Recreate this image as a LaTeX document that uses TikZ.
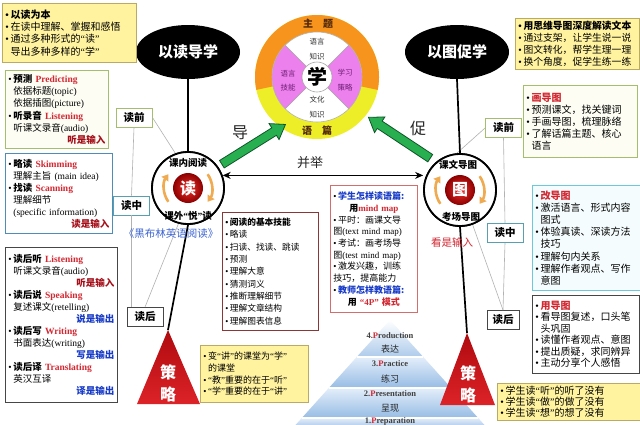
\documentclass[tikz,border=0pt]{standalone}
\usepackage{fontspec}
\setmainfont{Noto Sans CJK SC}
\newfontfamily\en{Liberation Serif}
\usetikzlibrary{shapes.geometric,shapes.arrows,arrows.meta,calc}
\setlength\parindent{0pt}
\definecolor{yel}{RGB}{255,243,160}
\definecolor{yelb}{RGB}{185,170,100}
\definecolor{olv}{RGB}{165,190,110}
\definecolor{cream}{RGB}{253,253,244}
\definecolor{stb}{RGB}{80,140,185}
\definecolor{dkg}{RGB}{70,70,70}
\definecolor{ered}{RGB}{210,40,50}
\definecolor{dred}{RGB}{165,15,25}
\definecolor{dblue}{RGB}{25,60,200}
\definecolor{brd}{RGB}{140,55,55}
\definecolor{pnk}{RGB}{210,110,110}
\definecolor{cyb}{RGB}{110,200,220}
\definecolor{cyf}{RGB}{245,252,253}
\definecolor{orng}{RGB}{247,148,30}
\definecolor{ylw}{RGB}{238,238,40}
\definecolor{vio}{RGB}{236,128,236}
\definecolor{garr}{RGB}{40,175,80}
\definecolor{garrb}{RGB}{15,85,40}
\definecolor{pyrt}{RGB}{228,238,250}
\definecolor{pyrb}{RGB}{150,188,228}
\definecolor{oarc}{RGB}{240,170,80}
\definecolor{lblue}{RGB}{60,100,210}
\definecolor{ballin}{RGB}{240,50,45}
\definecolor{ballout}{RGB}{140,0,0}
\definecolor{trit}{RGB}{175,10,15}
\definecolor{trib}{RGB}{220,35,40}
\definecolor{ringtx}{RGB}{80,40,10}
\definecolor{sectx}{RGB}{110,30,120}

\newcommand\bu{{\en\textbullet}\,}
\newcommand\nb{\phantom{{\en\textbullet}\,}}
\newcommand\qo{{\en\char"201C}}
\newcommand\qc{{\en\char"201D}}
\newcommand\EN[1]{{\en #1}}
\newcommand\ENR[1]{{\en\bfseries\color{ered}#1}}
\newcommand\RT[2]{\hfill\textbf{\color{#1}#2}\hspace*{6pt}}

\tikzset{
 box/.style={draw, line width=0.9pt, anchor=north west, align=left, inner sep=3pt, fill=white},
 ybox/.style={box, fill=yel, draw=yelb},
 tagbox/.style={draw, line width=0.9pt, fill=white, font=\bfseries\fontsize{10.5}{12}\selectfont, inner sep=1pt, minimum width=36pt, minimum height=19pt},
 bigell/.style={ellipse, fill=black, text=white, font=\bfseries\fontsize{15}{18}\selectfont, minimum width=104pt, minimum height=54pt, inner sep=0pt},
 mainline/.style={line width=1.7pt, black},
 thinl/.style={draw=gray!60, line width=0.6pt},
 hub/.style={circle, draw=black, line width=1.8pt, fill=white, minimum size=72pt, inner sep=0pt},
 redball/.style={circle, shading=radial, inner color=ballin, outer color=ballout, minimum size=30pt, inner sep=0pt, text=white, font=\bfseries\fontsize{16}{18}\selectfont},
 hublbl/.style={font=\bfseries\fontsize{9.5}{11}\selectfont, inner sep=0pt},
 cyc/.style={draw=oarc, line width=2.6pt, -{Triangle[width=8pt,length=6pt]}},
 garrow/.style={single arrow, draw=garrb, fill=garr, line width=0.8pt, inner xsep=0pt, inner ysep=4pt, single arrow head extend=5pt, single arrow tip angle=70, single arrow head indent=0pt},
 bigchar/.style={font=\fontsize{16}{18}\selectfont, text=black!85},
 trichar/.style={font=\bfseries\fontsize{16}{18}\selectfont, text=white},
 pyen/.style={font=\en\bfseries\fontsize{8.5}{10}\selectfont, text=black!75, inner sep=0pt},
 pycn/.style={font=\fontsize{9}{10}\selectfont, text=black!85, inner sep=0pt},
 secl/.style={font=\fontsize{7.5}{8}\selectfont, inner sep=0pt},
 ringl/.style={font=\bfseries\fontsize{10}{12}\selectfont, text=ringtx, inner sep=0pt},
}

\begin{document}
\begin{tikzpicture}[x=1pt,y=-1pt]
\useasboundingbox (0,0) rectangle (640,424);
\fill[white] (0,0) rectangle (640,424);
\clip (0,0) rectangle (640,424);

% ---------- pyramid (4P) ----------
\shade[top color=white, bottom color=pyrb!70!pyrt] (390,320) -- (423.3,357) -- (356.7,357) -- cycle;
\shade[top color=pyrt, bottom color=pyrb] (356.7,357) -- (423.3,357) -- (451.2,388) -- (328.8,388) -- cycle;
\shade[top color=pyrt, bottom color=pyrb] (328.8,388) -- (451.2,388) -- (478.2,418) -- (301.8,418) -- cycle;
\shade[top color=pyrt, bottom color=pyrb] (301.8,418) -- (478.2,418) -- (489,430) -- (291,430) -- cycle;
\draw[white, line width=1.5pt] (356.7,357) -- (423.3,357) (328.8,388) -- (451.2,388) (301.8,418) -- (478.2,418);
\node[pyen] (p4) at (390,336) {4.{\color{ered}P}roduction};
\node[pycn] (p4c) at (390,349) {表达};
\node[pyen] (p3) at (390,364) {3.{\color{ered}P}ractice};
\node[pycn] (p3c) at (390,379) {练习};
\node[pyen] (p2) at (390,394) {2.{\color{ered}P}resentation};
\node[pycn] (p2c) at (390,408) {呈现};
\node[pyen] (p1) at (390,421) {1.{\color{ered}P}reparation};

% ---------- key nodes ----------
\node[bigell] (el) at (188,52) {以读导学};
\node[bigell] (er) at (457,52) {以图促学};
\coordinate (sl) at (168,330);
\coordinate (sr) at (467,333);

\node[tagbox, draw=olv] (L1) at (134,117.5) {读前};
\node[tagbox, draw=cyb!80!black] (L2) at (131.5,205.5) {读中};
\node[tagbox, draw=dkg] (L3) at (145,317) {读后};
\node[tagbox, draw=olv] (R1) at (503.5,128) {读前};
\node[tagbox, draw=cyb!80!black] (R2) at (505,233) {读中};
\node[tagbox, draw=dkg, minimum width=32pt] (R3) at (503,320) {读后};

% hubs (placed first so that lines can refer to them)
\node[hub] (du) at (188,188) {};
\node[hub] (tu) at (460,190) {};

% ---------- thin gray lines ----------
\draw[thinl] (L1.east) -- (du.110);
\draw[thinl] (L1.south) -- (L2.north);
\draw[thinl] (L2.south) -- (L2.south |- L3.north);
\draw[thinl] (L3.north) -- (du.255);
\draw[thinl] (R1.west) -- (tu.95);
\draw[thinl] (R1.south) -- (R2.north);
\draw[thinl] (R2.south) -- (R3.north);
\draw[thinl] (tu.290) -- (R3.north);

% ---------- main lines ----------
\draw[mainline] (el.south) -- (du.north);
\draw[mainline] (du.south) -- (sl);
\draw[mainline] (er.south) -- (tu.north);
\draw[mainline] (tu.south) -- (sr);
\draw[line width=1.2pt, {Stealth[length=8pt,width=7pt]}-{Stealth[length=8pt,width=7pt]}] (du.20) -- (du.20 -| tu.west);

% redraw hubs on top of lines
\node[hub] at (du) {};
\node[hub] at (tu) {};
\node[redball] (dub) at (du) {读};
\node[redball] (tub) at (tu) {图};
\node[hublbl] (du1) at (188,163) {课内阅读};
\node[hublbl] (du2) at (188,216) {课外\qo 悦\qc 读};
\node[hublbl] (tu1) at (458,165) {课文导图};
\node[hublbl] (tu2) at (461,217) {考场导图};
\draw[cyc] ($(du)+(145:24)$) arc[start angle=145, end angle=215, radius=24];
\draw[cyc] ($(du)+(-35:24)$) arc[start angle=-35, end angle=35, radius=24];
\draw[cyc] ($(tu)+(145:24)$) arc[start angle=145, end angle=215, radius=24];
\draw[cyc] ($(tu)+(-35:24)$) arc[start angle=-35, end angle=35, radius=24];

% ---------- central ring ----------
\coordinate (C) at (317,77);
\fill[ylw] (C) circle[radius=62];
\fill[orng] (C) -- ($(C)+(12:62)$) arc[start angle=12, end angle=-192, radius=62] -- cycle;
\fill[white] (C) circle[radius=45];
\fill[vio] (C) -- ($(C)+(135:45)$) arc[start angle=135, end angle=225, radius=45] -- cycle;
\fill[vio] (C) -- ($(C)+(-45:45)$) arc[start angle=-45, end angle=45, radius=45] -- cycle;
\draw[gray!70, line width=0.5pt] ($(C)+(45:45)$) -- ($(C)+(225:45)$) ($(C)+(135:45)$) -- ($(C)+(-45:45)$);
\draw[gray!60, line width=0.6pt] (C) circle[radius=45];
\node[circle, fill=white, draw=gray!70, line width=0.6pt, minimum size=30pt, inner sep=0pt, font=\bfseries\fontsize{20}{22}\selectfont] (xue) at (C) {学};
\node[ringl] (r1) at (318,24) {主\quad 题};
\node[ringl] (r2) at (317,131) {语\quad 篇};
\node[secl, text=black!80] at (317,42) {语言};
\node[secl, text=black!80] at (317,57) {知识};
\node[secl, text=black!80] at (317,100) {文化};
\node[secl, text=black!80] at (317,115) {知识};
\node[secl, text=sectx] at (288,74) {语言};
\node[secl, text=sectx] at (288,88) {技能};
\node[secl, text=sectx] at (345,73) {学习};
\node[secl, text=sectx] at (345,88) {策略};

% ---------- green arrows ----------
\coordinate (g1a) at (219,166); \coordinate (g1b) at (283,126);
\path (g1a) -- (g1b) node[midway, sloped, allow upside down, garrow, minimum height=75pt] {};
\coordinate (g2a) at (433,160); \coordinate (g2b) at (371,119);
\path (g2a) -- (g2b) node[midway, sloped, allow upside down, garrow, minimum height=74pt] {};
\node[bigchar] (dao) at (240,133) {导};
\node[bigchar] (cu) at (418,128) {促};
\node[font=\fontsize{13}{15}\selectfont, text=black!85] (bj) at (310,163) {并举};

% ---------- strategy triangles ----------
\shade[top color=trit, bottom color=trib] (sl) -- (137,404) -- (200,404) -- cycle;
\shade[top color=trit, bottom color=trib] (sr) -- (440,405) -- (495,405) -- cycle;
\node[trichar] at (168,372) {策};
\node[trichar] at (168,394) {略};
\node[trichar] at (468,373) {策};
\node[trichar] at (468,395) {略};

% ---------- boxes left ----------
\node[ybox, text width=128pt, minimum height=59pt, font=\fontsize{10}{12.3}\selectfont] (tl) at (2,3) {%
\textbf{\bu 以读为本}\\
\bu 在读中理解、掌握和感悟\\
\bu 通过多种形式的\qo 读\qc\\
\nb 导出多种多样的\qo 学\qc};

\node[box, draw=olv, fill=cream, text width=97pt, minimum height=78pt, font=\fontsize{9.5}{12.2}\selectfont] (ba) at (5,70) {%
\bu\textbf{预测}\ \ENR{Predicting}\\
\nb 依据标题\EN{(topic)}\\
\nb 依据插图\EN{(picture)}\\
\bu\textbf{听录音}\ \ENR{Listening}\\
\nb 听课文录音\EN{(audio)}\\
\RT{dred}{听是输入}};

\node[box, draw=stb, text width=101pt, minimum height=80pt, font=\fontsize{9.5}{12}\selectfont] (bb) at (5,153) {%
\bu\textbf{略读}\ \ENR{Skimming}\\
\nb 理解主旨 \EN{(main idea)}\\
\bu\textbf{找读}\ \ENR{Scanning}\\
\nb 理解细节\\
\nb\EN{(specific information)}\\
\RT{dred}{读是输入}};

\node[box, draw=dkg, text width=106pt, minimum height=155pt, font=\fontsize{9.5}{12}\selectfont] (bc) at (5,247) {%
\bu\textbf{读后听}\ \ENR{Listening}\\
\nb 听课文录音\EN{(audio)}\\
\RT{dred}{听是输入}\\
\bu\textbf{读后说}\ \ENR{Speaking}\\
\nb 复述课文\EN{(retelling)}\\
\RT{dblue}{说是输出}\\
\bu\textbf{读后写}\ \ENR{Writing}\\
\nb 书面表达\EN{(writing)}\\
\RT{dblue}{写是输出}\\
\bu\textbf{读后译}\ \ENR{Translating}\\
\nb 英汉互译\\
\RT{dblue}{译是输出}};

% ---------- boxes middle ----------
\node[box, draw=brd, text width=90pt, minimum height=118pt, font=\fontsize{8.7}{12.3}\selectfont] (skill) at (222,212) {%
\textbf{\bu 阅读的基本技能}\\
\bu 略读\\
\bu 扫读、找读、跳读\\
\bu 预测\\
\bu 理解大意\\
\bu 猜测词义\\
\bu 推断理解细节\\
\bu 理解文章结构\\
\bu 理解图表信息};

\node[box, draw=pnk, text width=81pt, minimum height=127pt, font=\fontsize{9}{11.7}\selectfont] (mind) at (330,185) {%
\bu{\bfseries\color{dblue}学生怎样读语篇:}\\
\hfill\textbf{用}{\en\bfseries\color{ered}mind map}\hfill\mbox{}\\
\bu 平时：画课文导\\
图\EN{(text mind map)}\\
\bu 考试：画考场导\\
图\EN{(test mind map)}\\
\bu 激发兴趣，训练\\
技巧，提高能力\\
\bu{\bfseries\color{dblue}教师怎样教语篇:}\\
\hfill\textbf{用\ {\color{ered}\qo{\en 4P}\qc\ 模式}}\hfill\mbox{}};

\node[ybox, text width=102pt, minimum height=57pt, font=\fontsize{9}{11.7}\selectfont] (bm) at (200,345) {%
\bu 变\qo 讲\qc 的课堂为\qo 学\qc\\
\nb 的课堂\\
\bu\qo 教\qc 重要的在于\qo 听\qc\\
\bu\qo 学\qc 重要的在于\qo 讲\qc};

% ---------- boxes right ----------
\node[ybox, text width=118pt, minimum height=50pt, font=\fontsize{9.8}{11.8}\selectfont] (tr) at (515,18) {%
\textbf{\bu 用思维导图深度解读文本}\\
\bu 通过支架，让学生说一说\\
\bu 图文转化，帮学生理一理\\
\bu 换个角度，促学生练一练};

\node[box, draw=olv, fill=cream, text width=108pt, minimum height=72pt, font=\fontsize{10}{12}\selectfont] (hua) at (523,85) {%
\bu{\bfseries\color{ered}画导图}\\
\bu 预测课文，找关键词\\
\bu 手画导图，梳理脉络\\
\bu 了解话篇主题、核心\\
\nb 语言};

\node[box, draw=cyb, fill=cyf, text width=102pt, minimum height=105pt, font=\fontsize{10}{12.2}\selectfont] (gai) at (532,185) {%
\bu{\bfseries\color{ered}改导图}\\
\bu 激活语言、形式内容\\
\nb 图式\\
\bu 体验真读、深读方法\\
\nb 技巧\\
\bu 理解句内关系\\
\bu 理解作者观点、写作\\
\nb 意图};

\node[box, draw=dkg, text width=101pt, minimum height=78pt, font=\fontsize{10}{11.5}\selectfont] (yong) at (532,295) {%
\bu{\bfseries\color{ered}用导图}\\
\bu 看导图复述，口头笔\\
\nb 头巩固\\
\bu 读懂作者观点、意图\\
\bu 提出质疑，求同辨异\\
\bu 主动分享个人感悟};

\node[ybox, text width=137pt, font=\fontsize{10}{11}\selectfont] (br) at (497,383) {%
\bu 学生读\qo 听\qc 的听了没有\\
\bu 学生读\qo 做\qc 的做了没有\\
\bu 学生读\qo 想\qc 的想了没有};

% ---------- loose labels ----------
\node[font=\fontsize{10.5}{12}\selectfont, text=lblue, inner sep=0pt] (hbl) at (171,234) {《黑布林英语阅读》};
\node[font=\fontsize{10.5}{12}\selectfont, text=ered, inner sep=0pt] (kan) at (452,242) {看是输入};
\end{tikzpicture}
\end{document}
